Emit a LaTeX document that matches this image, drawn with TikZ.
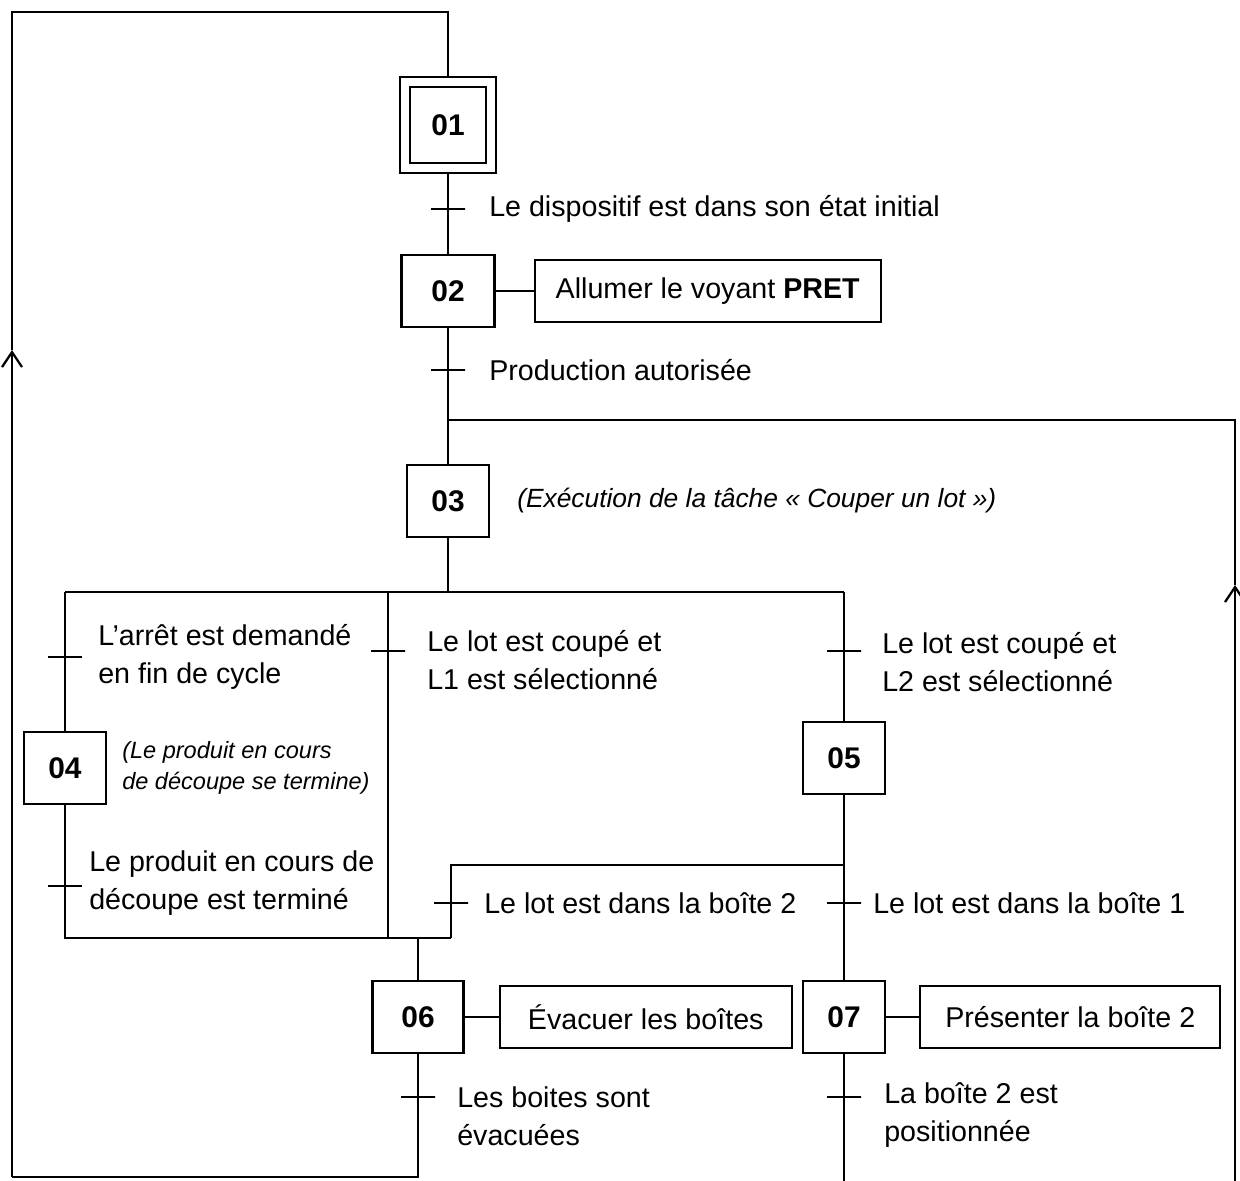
\documentclass[tikz,border=0pt]{standalone}
\usepackage{fontspec}
\setmainfont{Liberation Sans}
\usetikzlibrary{positioning,arrows.meta}

\tikzset{
  etape/.style={draw, minimum width=1.64cm, minimum height=1.44cm, inner sep=0pt,
    font=\fontsize{17}{20}\selectfont\bfseries},
  action/.style={draw, minimum height=1.24cm, inner sep=0pt,
    font=\fontsize{16.3}{21.5}\selectfont},
  transit/.style={draw, minimum width=0.68cm, minimum height=0pt, inner sep=0pt},
  recept/.style={inner sep=0pt, align=left, font=\fontsize{16.3}{21.5}\selectfont},
  comment/.style={inner sep=0pt, align=left, font=\fontsize{13.4}{18}\selectfont\itshape}
}

\begin{document}
\begin{tikzpicture}[x=0.02cm, y=-0.02cm, line width=1.3pt,
    >={Straight Barb[length=0.3cm, width=0.4cm]}]
    \useasboundingbox (0,0) rectangle (1240,1180);

    % etapes
    \node[etape, double, double distance=0.15cm, outer sep=0.12cm,
      minimum width=1.72cm, minimum height=1.72cm] (e01) at (448,125) {01};
    \node[etape, minimum width=1.86cm] (e02) at (448,291) {02};
    \node[etape] (e03) at (448,501) {03};
    \node[etape] (e04) at (65,768) {04};
    \node[etape] (e05) at (844,758) {05};
    \node[etape, minimum width=1.82cm] (e06) at (418,1017) {06};
    \node[etape] (e07) at (844,1017) {07};

    % actions
    \node[action, minimum width=6.92cm, right=0.76cm of e02] (a02) {Allumer le voyant \textbf{PRET}};
    \node[action, minimum width=5.84cm, right=0.68cm of e06] (a06) {Évacuer les boîtes};
    \node[action, minimum width=6cm, right=0.66cm of e07] (a07) {Présenter la boîte 2};
    \node[comment, font=\fontsize{15}{18}\selectfont\itshape, right=0.52cm of e03] (c03)
      {(Exécution de la tâche « Couper un lot »)};
    \node[comment, right=0.28cm of e04] (c04) {(Le produit en cours\\de découpe se termine)};

    % transitions
    \foreach \nom/\x/\y in {t12/448/209, t23/448/370, t34/65/657, t4/65/886,
      t35/388/651, t35b/844/651, t6/451/903, t7/844/903, t61/418/1097, t71/844/1097}
    {
    \node[transit] (\nom) at (\x,\y) {};
    }

    % receptivites
    \node[recept, right=0.44cm of t12] (r12) {Le dispositif est dans son état initial};
    \node[recept, right=0.44cm of t23] (r23) {Production autorisée};
    \node[recept, right=0.28cm of t34] (r34) {L’arrêt est demandé\\en fin de cycle};
    \node[recept, right=0.1cm of t4, yshift=0.06cm] (r4) {Le produit en cours de\\découpe est terminé};
    \node[recept, right=0.4cm of t35, yshift=-0.18cm] (r35) {Le lot est coupé et\\L1 est sélectionné};
    \node[recept, right=0.38cm of t35b, yshift=-0.22cm] (r35b) {Le lot est coupé et\\L2 est sélectionné};
    \node[recept, right=0.28cm of t6] (r6) {Le lot est dans la boîte 2};
    \node[recept, right=0.2cm of t7] (r7) {Le lot est dans la boîte 1};
    \node[recept, right=0.4cm of t61, yshift=-0.38cm] (r61) {Les boites sont\\évacuées};
    \node[recept, right=0.42cm of t71, yshift=-0.36cm] (r71) {La boîte 2 est\\positionnée};

    % points de renvoi
    \coordinate (hg) at (12,12);
    \coordinate (hd) at (448,12);
    \coordinate (flg) at (12,350);
    \coordinate (bg) at (12,1177);
    \coordinate (bg6) at (418,1177);
    \coordinate (j03) at (448,420);
    \coordinate (jd) at (1235,420);
    \coordinate (fld) at (1235,585);
    \coordinate (bd) at (1235,1184);
    \coordinate (bd7) at (844,1184);
    \coordinate (dg) at (65,592);
    \coordinate (dm) at (388,592);
    \coordinate (dc) at (448,592);
    \coordinate (dd) at (844,592);
    \coordinate (cg) at (65,938);
    \coordinate (cm) at (388,938);
    \coordinate (c6) at (418,938);
    \coordinate (cb2) at (451,938);
    \coordinate (jb2) at (451,865);
    \coordinate (j05) at (844,865);

    % liaisons
    \draw (e01) -- (t12) -- (e02) -- (t23) -- (e03) -- (dc);
    \draw (e02) -- (a02);
    \draw (dg) -- (dd);
    \draw (dg) -- (t34) -- (e04) -- (t4) -- (cg) -- (cb2);
    \draw (dm) -- (t35) -- (cm);
    \draw (dd) -- (t35b) -- (e05) -- (j05) -- (t7) -- (e07);
    \draw (j05) -- (jb2) -- (t6) -- (cb2);
    \draw (c6) -- (e06);
    \draw (e06) -- (a06);
    \draw (e07) -- (a07);

    % boucles de retour
    \draw (e06) -- (t61) -- (bg6) -- (bg);
    \draw[->] (bg) -- (flg);
    \draw (flg) -- (hg) -- (hd) -- (e01);
    \draw (e07) -- (t71) -- (bd7) -- (bd);
    \draw[->] (bd) -- (fld);
    \draw (fld) -- (jd) -- (j03);
\end{tikzpicture}
\end{document}
